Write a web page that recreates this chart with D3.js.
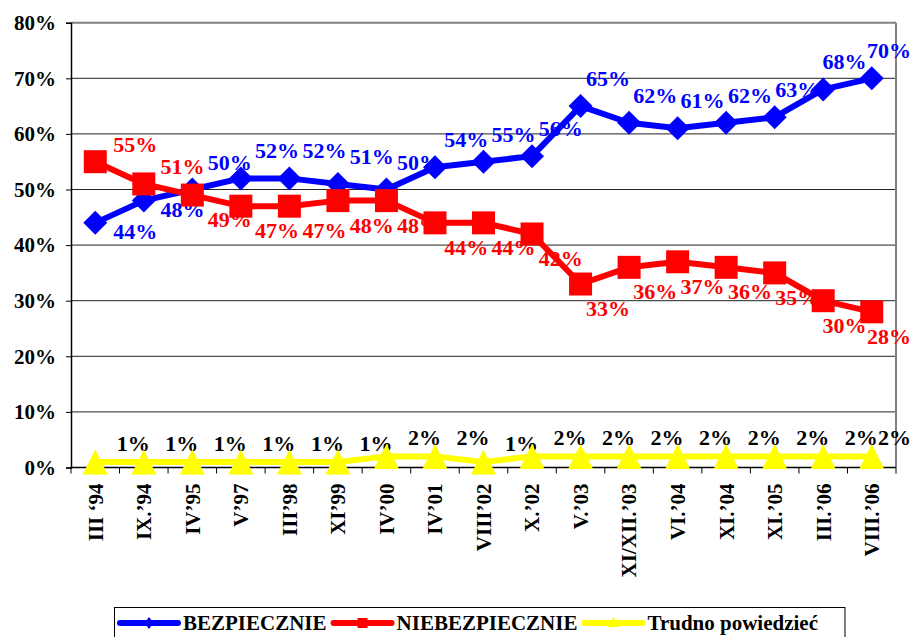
<!DOCTYPE html>
<html>
<head>
<meta charset="utf-8">
<script src="https://cdn.jsdelivr.net/npm/d3@7"></script>
<style>
  html, body { margin: 0; padding: 0; background: #fff; }
  svg { display: block; }
</style>
</head>
<body>
<svg id="chart" width="912" height="637"></svg>
<script>
const categories = ["III \u201894","IX.\u201994","IV\u201995","V\u201997","III\u201998","XI\u201999","IV\u201900","IV\u201901","VIII\u201902","X.\u201902","V.\u201903","XI/XII.\u201903","VI.\u201904","XI.\u201904","XI.\u201905","III.\u201906","VIII.\u201906"];
const bezpiecznie    = [44,48,50,52,52,51,50,54,55,56,65,62,61,62,63,68,70];
const niebezpiecznie = [55,51,49,47,47,48,48,44,44,42,33,36,37,36,35,30,28];
const trudno         = [1,1,1,1,1,1,2,2,1,2,2,2,2,2,2,2,2];
const yTicks = [0,10,20,30,40,50,60,70,80];
const seriesNames = ["BEZPIECZNIE","NIEBEZPIECZNIE","Trudno powiedzie\u0107"];

const FONT = '"Liberation Serif", "Times New Roman", "DejaVu Serif", serif';
const svg = d3.select("#chart");
const plotLeft = 71, plotRight = 896, plotTop = 22.7, plotBottom = 467.5;

const x = d3.scaleBand().domain(categories).range([plotLeft, plotRight]).padding(0);
const y = d3.scaleLinear().domain([0, 80]).range([plotBottom, plotTop]);
const cx = c => x(c) + x.bandwidth() / 2;

function styleText(sel, size) {
  return sel.style("font-family", FONT).style("font-weight", "bold").style("font-size", size + "px");
}

// gridlines
const g = svg.append("g");
g.selectAll("line.grid").data(yTicks.filter(t => t > 0)).join("line")
  .attr("x1", plotLeft).attr("x2", plotRight)
  .attr("y1", d => y(d)).attr("y2", d => y(d))
  .attr("stroke", d => d === 80 ? "#808080" : "#222").attr("stroke-width", d => d === 80 ? 2 : 1);
g.append("line").attr("x1", plotRight).attr("x2", plotRight).attr("y1", plotTop).attr("y2", plotBottom)
  .attr("stroke", "#808080").attr("stroke-width", 2);

// y axis
const yAxis = d3.axisLeft(y).tickValues(yTicks).tickSize(5).tickFormat(d => d + "%");
const ya = svg.append("g").attr("transform", `translate(${plotLeft},0)`).call(yAxis);
ya.select(".domain").attr("stroke", "#000").attr("stroke-width", 1.5);
ya.selectAll(".tick line").attr("stroke", "#000");
styleText(ya.selectAll(".tick text").attr("fill", "#000").attr("x", -15), 21);

// x axis
const xa = svg.append("g").attr("transform", `translate(0,${plotBottom})`);
xa.append("line").attr("x1", plotLeft).attr("x2", plotRight).attr("y1", 0).attr("y2", 0)
  .attr("stroke", "#000").attr("stroke-width", 1.5);
const bounds = categories.map(c => x(c)).concat([plotRight]);
xa.selectAll("line.tk").data(bounds).join("line")
  .attr("x1", d => d).attr("x2", d => d).attr("y1", 0).attr("y2", 6)
  .attr("stroke", "#000");
styleText(xa.selectAll("text").data(categories).join("text")
  .attr("transform", d => `translate(${cx(d)},16) rotate(-90)`)
  .attr("text-anchor", "end").attr("dy", "0.35em")
  .attr("fill", "#000").text(d => d), 21);

const series = [
  { name: seriesNames[0], values: bezpiecznie, color: "#0000FF", marker: "diamond" },
  { name: seriesNames[1], values: niebezpiecznie, color: "#FF0000", marker: "square" },
  { name: seriesNames[2], values: trudno, color: "#FFFF00", marker: "triangle" }
];

const markerPath = {
  diamond: "M0,-12L12,0L0,12L-12,0Z",
  square: "M-11.5,-11.5H11.5V11.5H-11.5Z",
  triangle: "M0,-12.5L12.5,12.5H-12.5Z"
};
const legendMarker = {
  diamond: "M0,-6L4.5,0L0,6L-4.5,0Z",
  square: "M-5,-5H5V5H-5Z",
  triangle: "M0,-6L6,4H-6Z"
};

const line = d3.line().x((d, i) => cx(categories[i])).y(d => y(d));

series.forEach(s => {
  svg.append("path").datum(s.values).attr("d", line)
    .attr("fill", "none").attr("stroke", s.color).attr("stroke-width", 6)
    .attr("stroke-linejoin", "round");
});

const n = categories.length;
series.forEach((s, si) => {
  const labels = svg.append("g").selectAll("text").data(s.values).join("text")
    .attr("x", (d, i) => {
      const t = i / (n - 1);
      const dx = si === 2 ? 38 : 40 - 20 * t;
      return cx(categories[i]) + dx;
    })
    .attr("y", (d, i) => {
      const py = y(d);
      if (si === 2) return py - 11;
      const b = bezpiecznie[i], r = niebezpiecznie[i];
      if (si === 0) return b > r ? py - 20 : py + 16;
      return r > b ? py - 10 : py + 32;
    })
    .attr("text-anchor", "middle")
    .attr("fill", si === 2 ? "#000" : s.color)
    .text(d => Math.round(d) + "%");
  styleText(labels, 22);
  // keep labels inside the picture
  labels.each(function() {
    const w = this.getComputedTextLength();
    const xv = +this.getAttribute("x");
    const maxX = 911 - w / 2;
    if (xv > maxX) this.setAttribute("x", maxX);
  });
});

series.forEach(s => {
  svg.append("g").selectAll("path").data(s.values).join("path")
    .attr("transform", (d, i) => `translate(${cx(categories[i])},${y(d)})`)
    .attr("d", markerPath[s.marker]).attr("fill", s.color);
});

// legend
const lg = svg.append("g");
const box = lg.append("rect").attr("x", 114.5).attr("y", 607.5).attr("height", 50)
  .attr("fill", "#fff").attr("stroke", "#000").attr("stroke-width", 1);
let lx = 120;
const ly = 623;
series.forEach(s => {
  lg.append("line").attr("x1", lx).attr("x2", lx + 58).attr("y1", ly).attr("y2", ly)
    .attr("stroke", s.color).attr("stroke-width", 6).attr("stroke-linecap", "round");
  lg.append("path").attr("transform", `translate(${lx + 29},${ly})`)
    .attr("d", legendMarker[s.marker]).attr("fill", s.color);
  const t = styleText(lg.append("text").attr("x", lx + 63).attr("y", 630)
    .attr("fill", "#000").text(s.name), 21);
  lx = lx + 63 + t.node().getComputedTextLength() + 7;
});
box.attr("width", lx + 20 - 114.5);
</script>
</body>
</html>
